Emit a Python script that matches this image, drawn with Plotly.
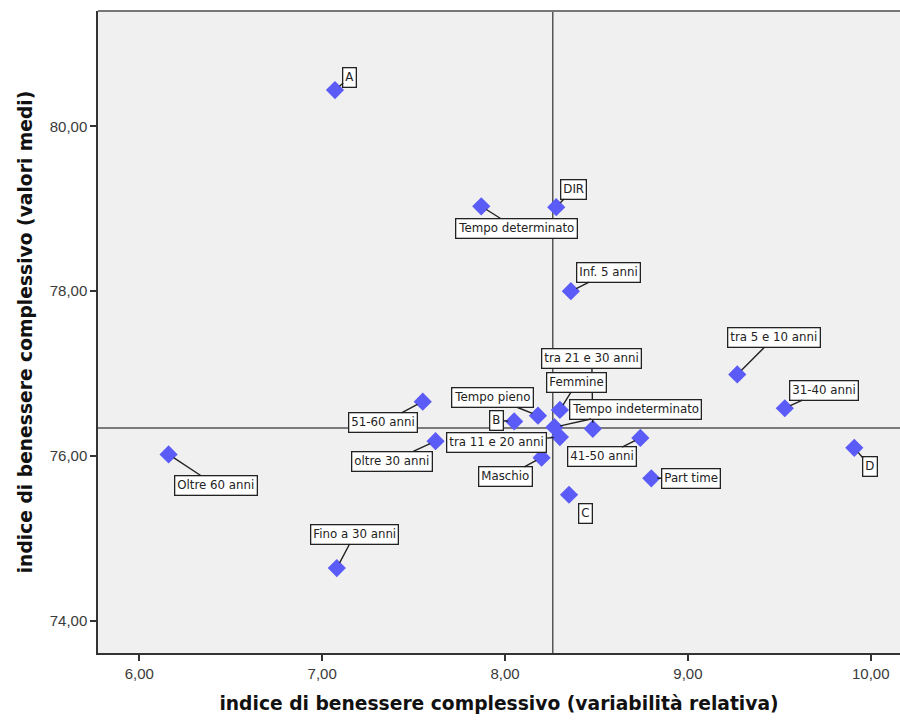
import plotly.graph_objects as go

# Group labels and their wellbeing index values
labels = [
    "A", "Tempo determinato", "DIR", "Inf. 5 anni", "tra 5 e 10 anni",
    "31-40 anni", "D", "Part time", "C", "41-50 anni", "tra 21 e 30 anni",
    "Femmine", "Tempo indeterminato", "tra 11 e 20 anni", "Tempo pieno", "B",
    "Maschio", "51-60 anni", "oltre 30 anni", "Oltre 60 anni", "Fino a 30 anni",
]
variabilita = [
    7.07, 7.87, 8.28, 8.36, 9.27,
    9.53, 9.91, 8.80, 8.35, 8.74, 8.48,
    8.30, 8.27, 8.30, 8.18, 8.05,
    8.20, 7.55, 7.62, 6.16, 7.08,
]
valori_medi = [
    80.44, 79.03, 79.02, 78.00, 76.99,
    76.58, 76.10, 75.73, 75.53, 76.22, 76.33,
    76.56, 76.35, 76.23, 76.49, 76.42,
    75.98, 76.66, 76.18, 76.02, 74.64,
]

# Overall reference values (quadrant lines)
ref_variabilita = 8.261
ref_valori_medi = 76.34

# Label box offsets from each point, in pixels (dx, dy)
label_offsets = [
    (15, -13), (35, 22), (17, -18), (38, -19), (37, -37),
    (39, -18), (16, 19), (40, 0), (16, 19), (-38, 19), (-1, -70),
    (17, -27), (81, -18), (-63, 5), (-45, -18), (-18, -1),
    (-36, 19), (-40, 21), (-44, 20), (47, 31), (18, -34),
]

x_range = [5.774, 10.16]
y_range = [73.61, 81.40]

fig = go.Figure()

fig.add_trace(go.Scatter(
    x=variabilita, y=valori_medi, mode="markers",
    marker=dict(symbol="diamond", size=14, color="#5b5bf8", line=dict(width=0)),
    hoverinfo="text", text=labels, showlegend=False,
))

# Quadrant reference lines
fig.add_shape(type="line", xref="x", yref="y",
              x0=ref_variabilita, x1=ref_variabilita, y0=y_range[0], y1=y_range[1],
              line=dict(color="#555555", width=1.5), layer="below")
fig.add_shape(type="line", xref="x", yref="y",
              x0=x_range[0], x1=x_range[1], y0=ref_valori_medi, y1=ref_valori_medi,
              line=dict(color="#555555", width=1.5), layer="below")

# Top frame line of the plot area
fig.add_shape(type="line", xref="paper", yref="paper",
              x0=0, x1=1, y0=1, y1=1,
              line=dict(color="#777777", width=2))

for lab, xv, yv, (dx, dy) in zip(labels, variabilita, valori_medi, label_offsets):
    fig.add_annotation(
        x=xv, y=yv, text=lab, showarrow=True, ax=dx, ay=dy,
        arrowhead=0, arrowwidth=1.4, arrowcolor="#222222", standoff=6,
        font=dict(family="DejaVu Sans", size=11.8, color="#222222"),
        bgcolor="white", bordercolor="#222222", borderwidth=1.3, borderpad=2,
    )

title_font = dict(family="DejaVu Sans", size=18.7, color="#111111", weight="bold")

fig.update_layout(
    width=900, height=720,
    margin=dict(l=98, r=0, t=11, b=67),
    paper_bgcolor="white", plot_bgcolor="#f0f0f0",
    separators=",.",
    font=dict(family="Liberation Sans", size=15, color="#3a3a3a"),
    xaxis=dict(
        range=x_range, tickvals=[6, 7, 8, 9, 10], tickformat=".2f",
        showgrid=False, zeroline=False, showline=True, mirror=False,
        linecolor="#333333", linewidth=1.5,
        ticks="outside", ticklen=6, tickcolor="#333333", tickwidth=1.5,
        title=dict(text="indice di benessere complessivo (variabilità relativa)",
                   font=title_font, standoff=16),
    ),
    yaxis=dict(
        range=y_range, tickvals=[74, 76, 78, 80], tickformat=".2f",
        showgrid=False, zeroline=False, showline=True, mirror=False,
        linecolor="#333333", linewidth=1.5,
        ticks="outside", ticklen=6, tickcolor="#333333", tickwidth=1.5,
        title=dict(text="indice di benessere complessivo (valori medi)",
                   font=title_font, standoff=12),
    ),
)

fig.write_html("out.html")
